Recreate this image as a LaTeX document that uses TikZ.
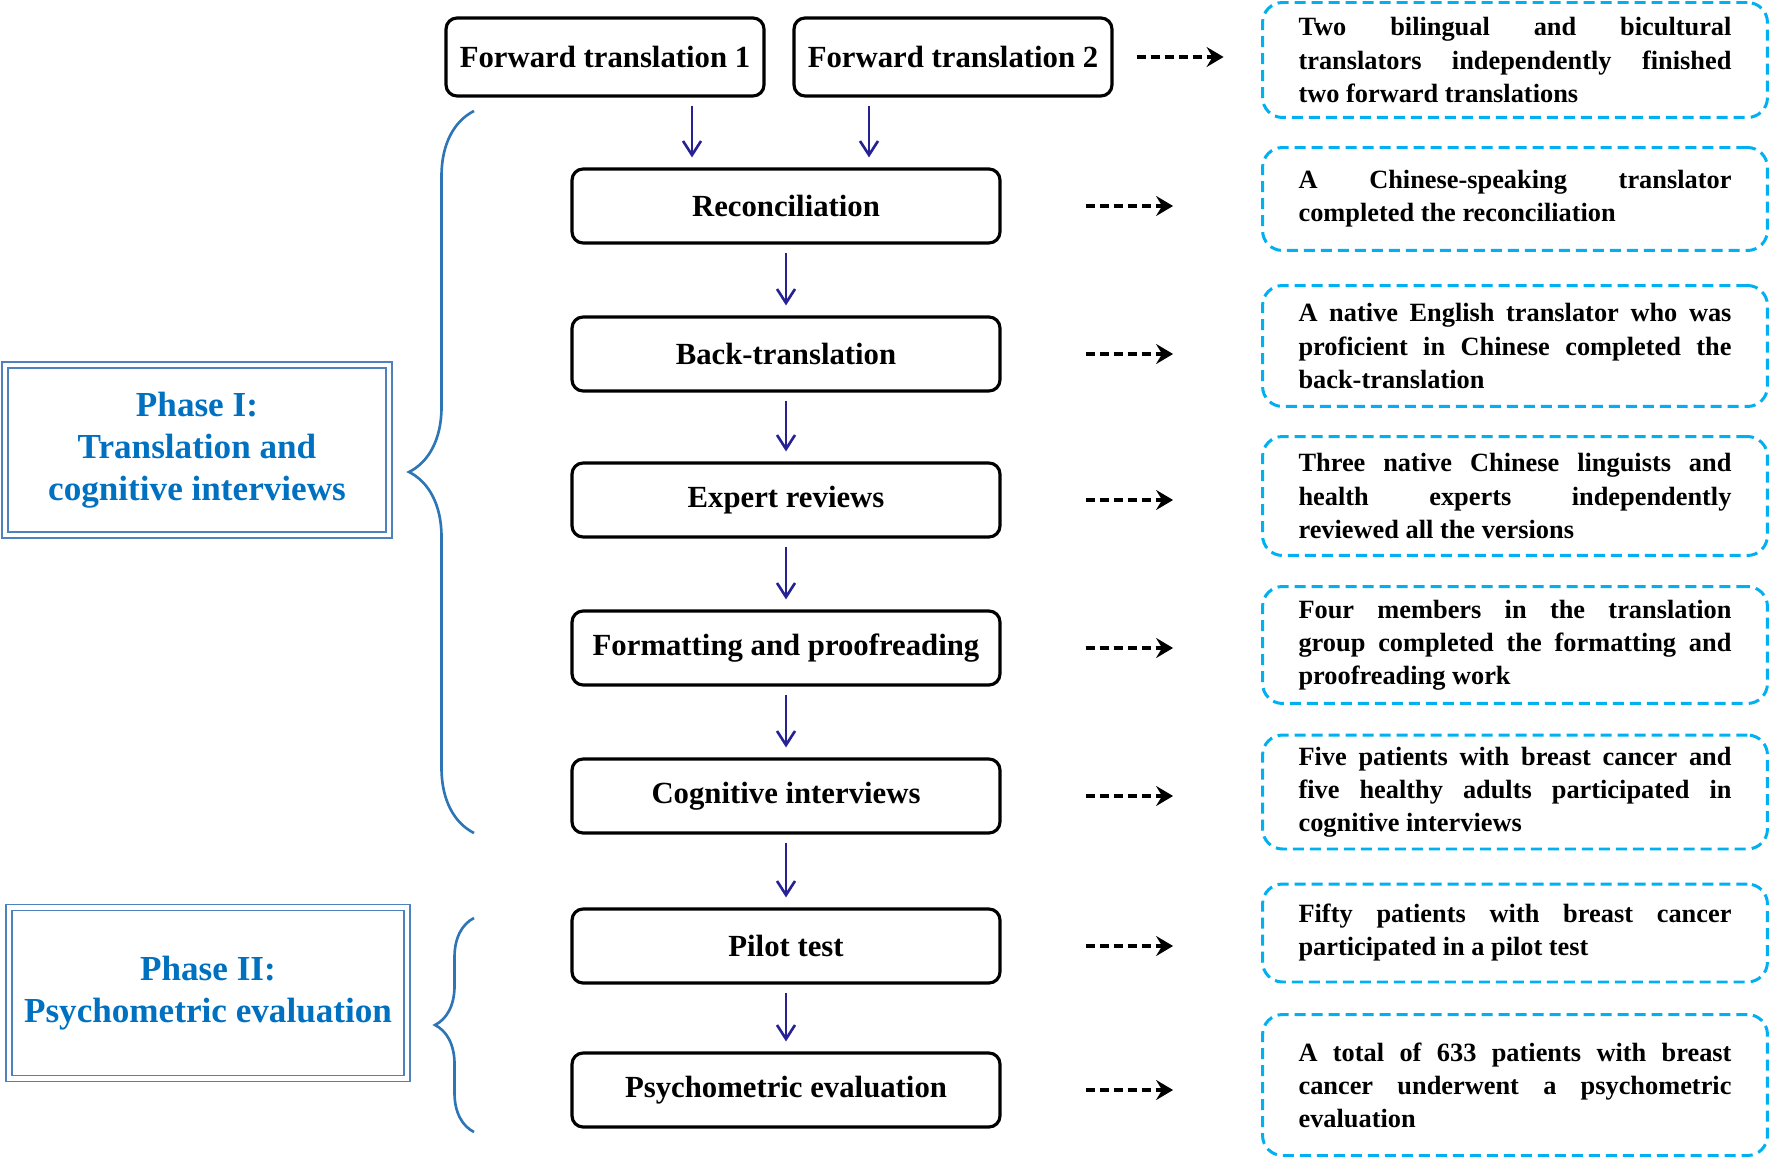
\documentclass[tikz,border=0pt]{standalone}
\usepackage{fontspec}
\setmainfont{Liberation Serif}
\usetikzlibrary{arrows.meta,decorations.pathreplacing}

\definecolor{noteblue}{RGB}{0,176,240}
\definecolor{phaseblue}{RGB}{0,112,192}
\definecolor{frameblue}{RGB}{79,129,189}
\definecolor{bracecol}{RGB}{46,117,182}
\definecolor{arrowblue}{RGB}{38,34,150}

\hyphenpenalty=10000
\exhyphenpenalty=10000

\begin{document}
\begin{tikzpicture}[
		x=0.02cm, y=-0.02cm,
		stepbox/.style={draw, line width=1.8pt, rounded corners=2.2mm,
				minimum width=8.56cm, minimum height=1.48cm,
				font=\fontsize{17.5}{21}\selectfont\bfseries},
		fwdbox/.style={stepbox, minimum width=6.36cm, minimum height=1.56cm},
		notebox/.style={draw=noteblue, line width=1.7pt, dash pattern=on 2.2mm off 1.2mm,
				rounded corners=4mm, minimum width=10.1cm, text width=8.66cm, align=justify,
				font=\fontsize{15}{18.8}\selectfont\bfseries},
		phasebox/.style={draw=frameblue, double=white, double distance=0.9mm, line width=0.8pt,
				text=phaseblue, align=center, font=\fontsize{20}{24}\selectfont\bfseries},
		flow/.style={draw=arrowblue, line width=1.5pt, -{Straight Barb[length=2.8mm,width=3.6mm]},
				shorten <=1.6mm, shorten >=2mm},
		hint/.style={line width=2.2pt, dash pattern=on 1.8mm off 1mm,
				-{Stealth[length=3.4mm,width=4mm,inset=1.2mm]}},
		curly/.style={draw=bracecol, line width=1.5pt, decorate}
	]
	\useasboundingbox (0,0) rectangle (1770,1158);

	% steps
	\node[fwdbox] (fwd1) at (605,57) {Forward translation 1};
	\node[fwdbox] (fwd2) at (953,57) {Forward translation 2};
	\node[stepbox] (recon) at (786,206) {Reconciliation};
	\node[stepbox] (backtr) at (786,354) {Back-translation};
	\node[stepbox] (expert) at (786,500) {Expert reviews};
	\node[stepbox] (format) at (786,648) {Formatting and proofreading};
	\node[stepbox] (cogint) at (786,796) {Cognitive interviews};
	\node[stepbox] (pilot) at (786,946) {Pilot test};
	\node[stepbox] (psyeval) at (786,1090) {Psychometric evaluation};

	% notes
	\node[notebox, minimum height=2.3cm] (note1) at (1515,60)
		{Two bilingual and bicultural\linebreak translators independently finished\linebreak two forward translations};
	\node[notebox, minimum height=2.06cm] (note2) at (1515,199)
		{A Chinese-speaking translator\linebreak completed the reconciliation};
	\node[notebox, minimum height=2.42cm] (note3) at (1515,346)
		{A native English translator who was\linebreak proficient in Chinese completed the\linebreak back-translation};
	\node[notebox, minimum height=2.38cm] (note4) at (1515,496)
		{Three native Chinese linguists and\linebreak health experts independently\linebreak reviewed all the versions};
	\node[notebox, minimum height=2.34cm] (note5) at (1515,645)
		{Four members in the translation\linebreak group completed the formatting and\linebreak proofreading work};
	\node[notebox, minimum height=2.28cm] (note6) at (1515,792)
		{Five patients with breast cancer and\linebreak five healthy adults participated in\linebreak cognitive interviews};
	\node[notebox, minimum height=1.96cm] (note7) at (1515,933)
		{Fifty patients with breast cancer\linebreak participated in a pilot test};
	\node[notebox, minimum height=2.82cm] (note8) at (1515,1085)
		{A total of 633 patients with breast\linebreak cancer underwent a psychometric\linebreak evaluation};

	% phases
	\node[phasebox, minimum width=7.68cm, minimum height=3.4cm] (phase1) at (197,450)
		{Phase I:\\Translation and\\cognitive interviews};
	\node[phasebox, minimum width=7.96cm, minimum height=3.42cm] (phase2) at (208,993)
		{Phase II:\\Psychometric evaluation};
	\draw[curly, decoration={brace, amplitude=13mm}] (474,833) -- (474,111);
	\draw[curly, decoration={brace, amplitude=7.8mm}] (474,1132) -- (474,918);

	% flow
	\draw[flow] ([xshift=-1.88cm]recon.north |- fwd1.south) -- ([xshift=-1.88cm]recon.north);
	\draw[flow] ([xshift=1.66cm]recon.north |- fwd2.south) -- ([xshift=1.66cm]recon.north);
	\draw[flow] (recon) -- (backtr);
	\draw[flow] (backtr) -- (expert);
	\draw[flow] (expert) -- (format);
	\draw[flow] (format) -- (cogint);
	\draw[flow] (cogint) -- (pilot);
	\draw[flow] (pilot) -- (psyeval);

	% hints
	\draw[hint] ([xshift=0.46cm]fwd2.east) -- ([xshift=-0.75cm]note1.west |- fwd2.east);
	\draw[hint] ([xshift=1.68cm]recon.east) -- ([xshift=-1.76cm]note2.west |- recon.east);
	\draw[hint] ([xshift=1.68cm]backtr.east) -- ([xshift=-1.76cm]note3.west |- backtr.east);
	\draw[hint] ([xshift=1.68cm]expert.east) -- ([xshift=-1.76cm]note4.west |- expert.east);
	\draw[hint] ([xshift=1.68cm]format.east) -- ([xshift=-1.76cm]note5.west |- format.east);
	\draw[hint] ([xshift=1.68cm]cogint.east) -- ([xshift=-1.76cm]note6.west |- cogint.east);
	\draw[hint] ([xshift=1.68cm]pilot.east) -- ([xshift=-1.76cm]note7.west |- pilot.east);
	\draw[hint] ([xshift=1.68cm]psyeval.east) -- ([xshift=-1.76cm]note8.west |- psyeval.east);
\end{tikzpicture}
\end{document}
